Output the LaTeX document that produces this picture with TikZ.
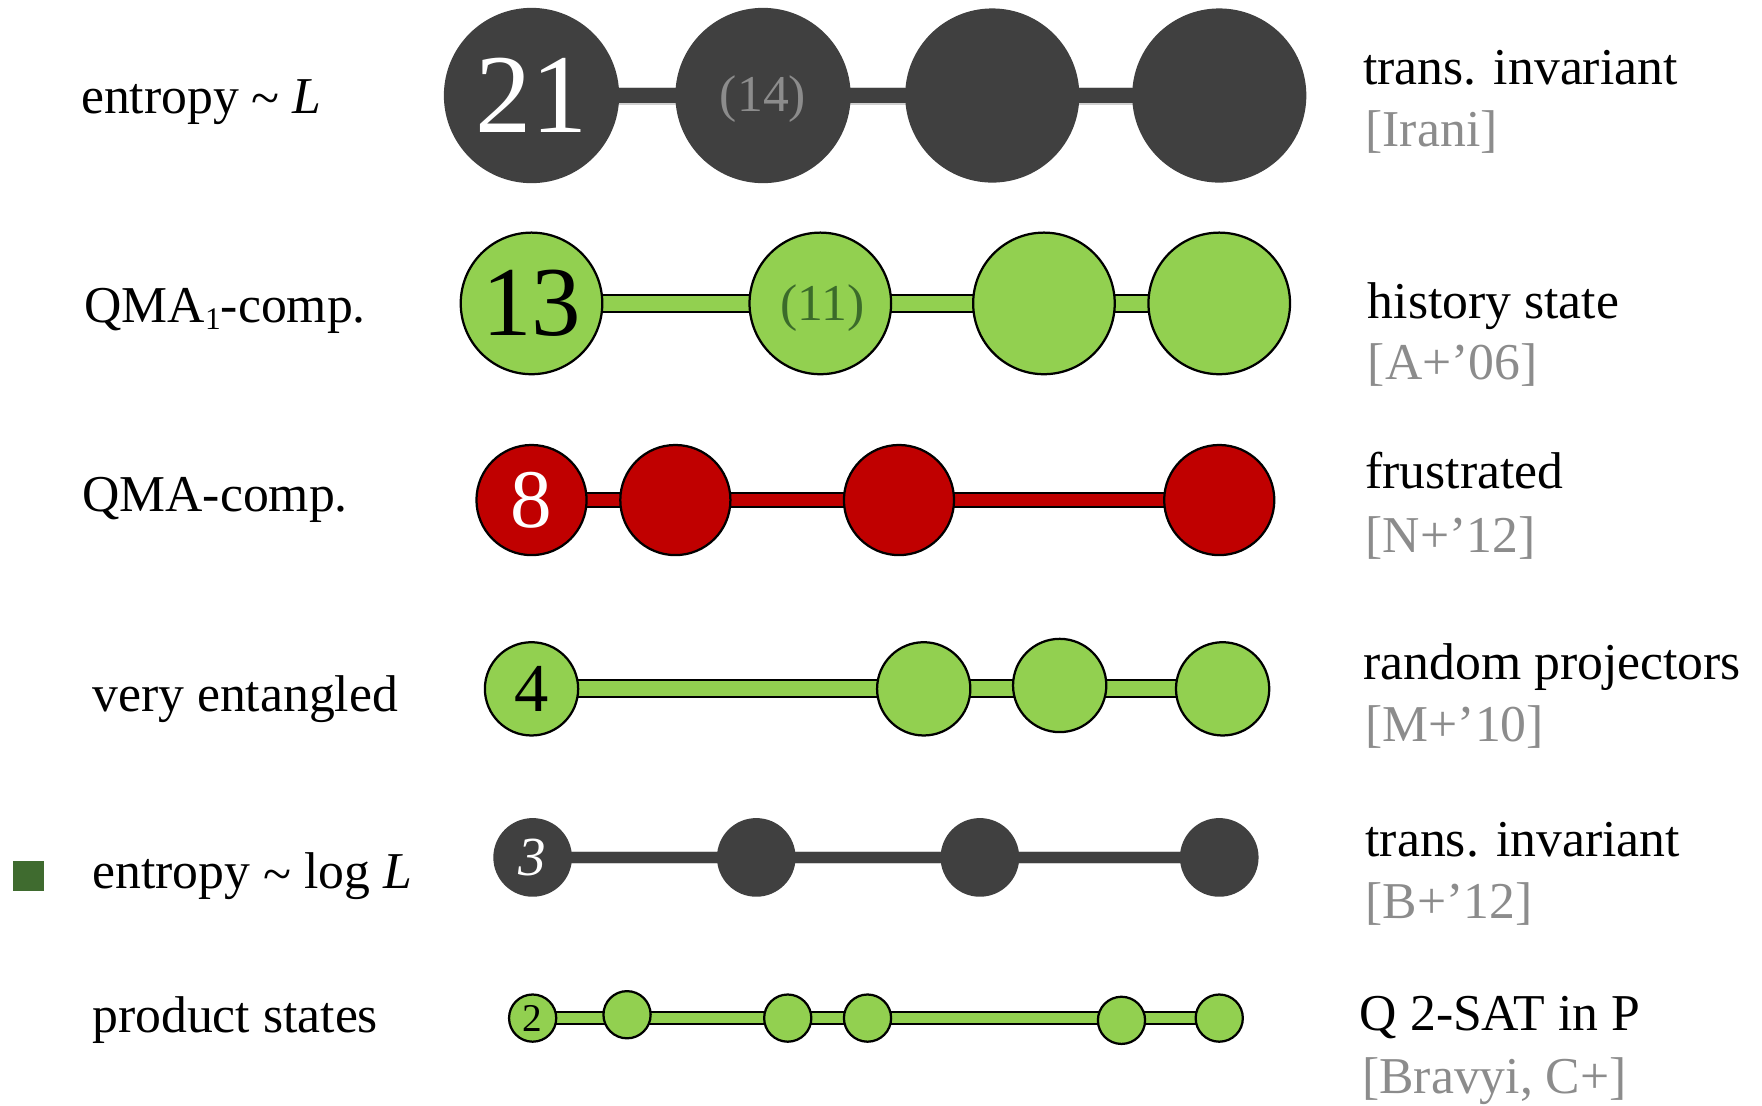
\documentclass[tikz,border=0pt]{standalone}
\usepackage{fontspec}
\setmainfont{Liberation Serif}
\usetikzlibrary{backgrounds}
\definecolor{dk}{HTML}{404040}
\definecolor{gr}{HTML}{92D050}
\definecolor{rd}{HTML}{C00000}
\definecolor{citegray}{HTML}{8C8C8C}
\definecolor{gtxt}{HTML}{3B6B2A}
\definecolor{sqgreen}{HTML}{3F6B2F}
\definecolor{barlight}{HTML}{D0D0D0}
\tikzset{
  lbl/.style={font=\fontsize{46}{55}\selectfont, anchor=base west, inner sep=0pt},
  citelbl/.style={lbl, text=citegray},
  dkball/.style={circle, fill=dk, inner sep=0pt, minimum size=#1},
  grball/.style={circle, fill=gr, draw=black, line width=2pt, inner sep=0pt, minimum size=#1},
  rdball/.style={circle, fill=rd, draw=black, line width=2pt, inner sep=0pt, minimum size=#1},
  dkbar/.style={draw=barlight, line width=1pt, double=dk, double distance=#1},
  grbar/.style={draw=black, line width=1.8pt, double=gr, double distance=#1},
  rdbar/.style={draw=black, line width=1.8pt, double=rd, double distance=#1},
  sq/.style={fill=sqgreen, inner sep=0pt, minimum size=27pt}
}
\begin{document}
\begin{tikzpicture}[x=1pt,y=-1pt]
\useasboundingbox (0,0) rectangle (1568,984);

% ---------- left labels
\node[lbl] (l1) at (72,101) {entropy \raisebox{-0.1ex}{\textasciitilde} \textit{L}};
\node[lbl] (l2) at (75,287) {QMA\raisebox{-0.3ex}{\fontsize{28}{30}\selectfont 1}-comp.};
\node[lbl] (l3) at (73,455) {QMA-comp.};
\node[lbl] (l4) at (82,633) {very entangled};
\node[lbl] (l5) at (82,791) {entropy \raisebox{-0.1ex}{\textasciitilde} log \textit{L}};
\node[lbl] (l6) at (82,919) {product states};
\node[sq] (sq) at (25.5,779.5) {};

% ---------- right labels
\node[lbl] (r1) at (1213,75) {trans. invariant};
\node[citelbl] (c1) at (1215,130) {[Irani]};
\node[lbl] (r2) at (1217,283) {history state};
\node[citelbl] (c2) at (1217,338) {[A+’06]};
\node[lbl] (r3) at (1215,435) {frustrated};
\node[citelbl] (c3) at (1215,492) {[N+’12]};
\node[lbl] (r4) at (1213,605) {random projectors};
\node[citelbl] (c4) at (1215,660) {[M+’10]};
\node[lbl] (r5) at (1215,762) {trans. invariant};
\node[citelbl] (c5) at (1215,817) {[B+’12]};
\node[lbl] (r6) at (1210,917) {Q 2-SAT in P};
\node[citelbl] (c6) at (1212,973) {[Bravyi, C+]};

% ---------- row 1
\node[dkball=156pt, text=white, font=\fontsize{100}{100}\selectfont] (a1) at (473,85) {21};
\node[dkball=156pt] (a2) at (679,85) {};
\node[text=citegray, font=\fontsize{46}{50}\selectfont, inner sep=0pt] (t14) at (679,88) {(14)};
\node[dkball=155pt] (a3) at (883,85) {};
\node[dkball=155pt] (a4) at (1085,85) {};

% ---------- row 2
\node[grball=126pt, text=black, font=\fontsize{88}{90}\selectfont] (b1) at (473,270) {13};
\node[grball=126pt] (b2) at (730,270) {};
\node[text=gtxt, font=\fontsize{46}{50}\selectfont, inner sep=0pt] (t11) at (732,274) {(11)};
\node[grball=126pt] (b3) at (929,270) {};
\node[grball=126pt] (b4) at (1085,270) {};

% ---------- row 3
\node[rdball=98pt, text=white, font=\fontsize{74}{76}\selectfont] (d1) at (473,445) {8};
\node[rdball=98pt] (d2) at (601,445) {};
\node[rdball=98pt] (d3) at (800,445) {};
\node[rdball=98pt] (d4) at (1085,445) {};

% ---------- row 4
\node[grball=83pt, text=black, font=\fontsize{61}{62}\selectfont] (e1) at (473,613) {4};
\node[grball=83pt] (e2) at (822,613) {};
\node[grball=83pt] (e3) at (943,610) {};
\node[grball=83pt] (e4) at (1088,613) {};

% ---------- row 5
\node[dkball=70pt, text=white, font=\fontsize{49}{50}\selectfont\itshape] (f1) at (474,763) {3};
\node[dkball=70pt] (f2) at (673,763) {};
\node[dkball=70pt] (f3) at (872,763) {};
\node[dkball=70pt] (f4) at (1085,763) {};

% ---------- row 6
\node[grball=42pt, text=black, font=\fontsize{35}{36}\selectfont] (g1) at (474,906) {2};
\node[grball=42pt] (g2) at (558,903) {};
\node[grball=42pt] (g3) at (701,906) {};
\node[grball=42pt] (g4) at (772,906) {};
\node[grball=42pt] (g5) at (998,908) {};
\node[grball=42pt] (g6) at (1085,906) {};

% ---------- bars (behind the balls)
\begin{scope}[on background layer]
  \draw[dkbar=14pt] (a1.center) -- (a2.center) -- (a3.center) -- (a4.center);
  \draw[grbar=13.5pt] (b1.center) -- (b2.center) -- (b3.center) -- (b4.center);
  \draw[rdbar=10pt] (d1.center) -- (d2.center) -- (d3.center) -- (d4.center);
  \draw[grbar=13.5pt] (e1.center) -- (e2.center);
  \draw[grbar=13.5pt] (e2.center) -- (e3.center |- e2.center) -- (e4.center);
  \draw[dkbar=10pt] (f1.center) -- (f2.center) -- (f3.center) -- (f4.center);
  \draw[grbar=9pt] (g1.center) -- (g6.center);
\end{scope}
\end{tikzpicture}
\end{document}
